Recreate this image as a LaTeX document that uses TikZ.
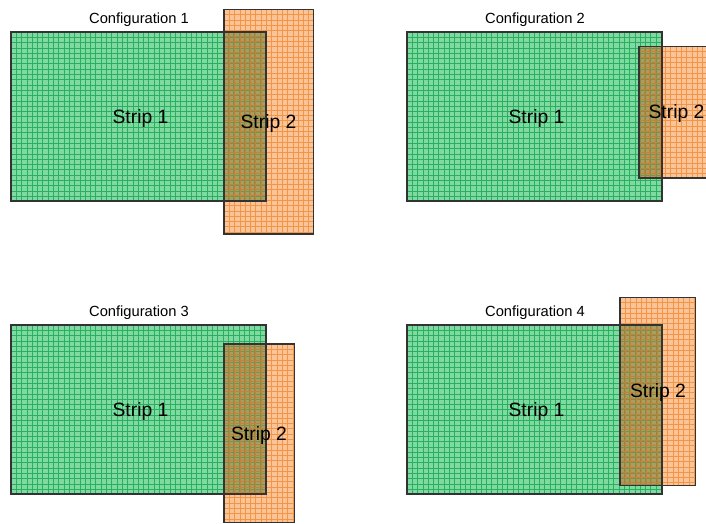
\documentclass[tikz,border=0pt]{standalone}
\usepackage{fontspec}
\setmainfont{Liberation Sans}

\definecolor{stripgreen}{RGB}{128,217,160}
\definecolor{greenline}{RGB}{40,176,96}
\definecolor{striporange}{RGB}{251,196,152}
\definecolor{orangeline}{RGB}{242,150,70}
\definecolor{overlapfill}{RGB}{168,158,96}
\definecolor{overlapline}{RGB}{200,128,56}
\definecolor{overlapgreen}{RGB}{118,146,76}

\tikzset{
  gline/.style={greenline,line width=0.8pt},
  oline/.style={orangeline,line width=0.8pt},
  ogline/.style={overlapgreen,line width=0.7pt},
  ooline/.style={overlapline,line width=0.7pt},
  border/.style={draw=black!80,line width=1.1pt},
  title/.style={font=\fontsize{14.7}{16}\selectfont,inner sep=0pt,anchor=base},
  striplabel/.style={font=\fontsize{19.3}{22}\selectfont,inner sep=0pt,anchor=base},
}

% fine mesh of lines every 5.3 units inside the box (#1,#2)-(#3,#4)
\newcommand\meshlines[5]{%
  \pgfmathtruncatemacro\gnx{((#3)-(#1))/5.3}%
  \pgfmathtruncatemacro\gny{((#4)-(#2))/5.3}%
  \foreach \i in {1,...,\gnx}{\draw[#5] ({#1+\i*5.3},#2) -- ({#1+\i*5.3},#4);}%
  \foreach \j in {1,...,\gny}{\draw[#5] (#1,{#2+\j*5.3}) -- (#3,{#2+\j*5.3});}%
}

% one configuration: #1 number, #2-#5 box of strip 2, #6,#7 base point of its label
\newcommand\stripconfig[7]{%
  % strip 1
  \fill[stripgreen] (11,32) rectangle (266,201);
  \begin{scope}
    \clip (11,32) rectangle (266,201);
    \meshlines{11}{32}{266}{201}{gline}
  \end{scope}
  % strip 2
  \fill[striporange] (#2,#3) rectangle (#4,#5);
  \begin{scope}
    \clip (#2,#3) rectangle (#4,#5);
    \meshlines{#2}{#3}{#4}{#5}{oline}
  \end{scope}
  % overlap of the two strips
  \begin{scope}
    \clip (11,32) rectangle (266,201);
    \clip (#2,#3) rectangle (#4,#5);
    \fill[overlapfill] (#2,#3) rectangle (#4,#5);
    \meshlines{11}{32}{266}{201}{ogline}
    \meshlines{#2}{#3}{#4}{#5}{ooline}
  \end{scope}
  % outlines
  \draw[border] (11,32) rectangle (266,201);
  \draw[border] (#2,#3) rectangle (#4,#5);
  % labels
  \node[title] (title#1) at (139,23.5) {Configuration #1};
  \node[striplabel] (stripA#1) at (140.5,123) {Strip 1};
  \node[striplabel] (stripB#1) at (#6,#7) {Strip 2};
}

\begin{document}
\begin{tikzpicture}[x=1pt,y=-1pt]
  \clip (0,0) rectangle (706,523);
  \fill[white] (0,0) rectangle (706,523);

  \begin{scope}
    \stripconfig{1}{224}{9.5}{313.5}{234}{268.5}{128}
  \end{scope}
  \begin{scope}[shift={(396,0)}]
    \stripconfig{2}{243}{46.5}{320}{178}{280.5}{118}
  \end{scope}
  \begin{scope}[shift={(0,293)}]
    \stripconfig{3}{224}{51}{294.5}{229.7}{259}{147}
  \end{scope}
  \begin{scope}[shift={(396,293)}]
    \stripconfig{4}{224}{4.3}{299.3}{192.3}{262}{104}
  \end{scope}
\end{tikzpicture}
\end{document}
